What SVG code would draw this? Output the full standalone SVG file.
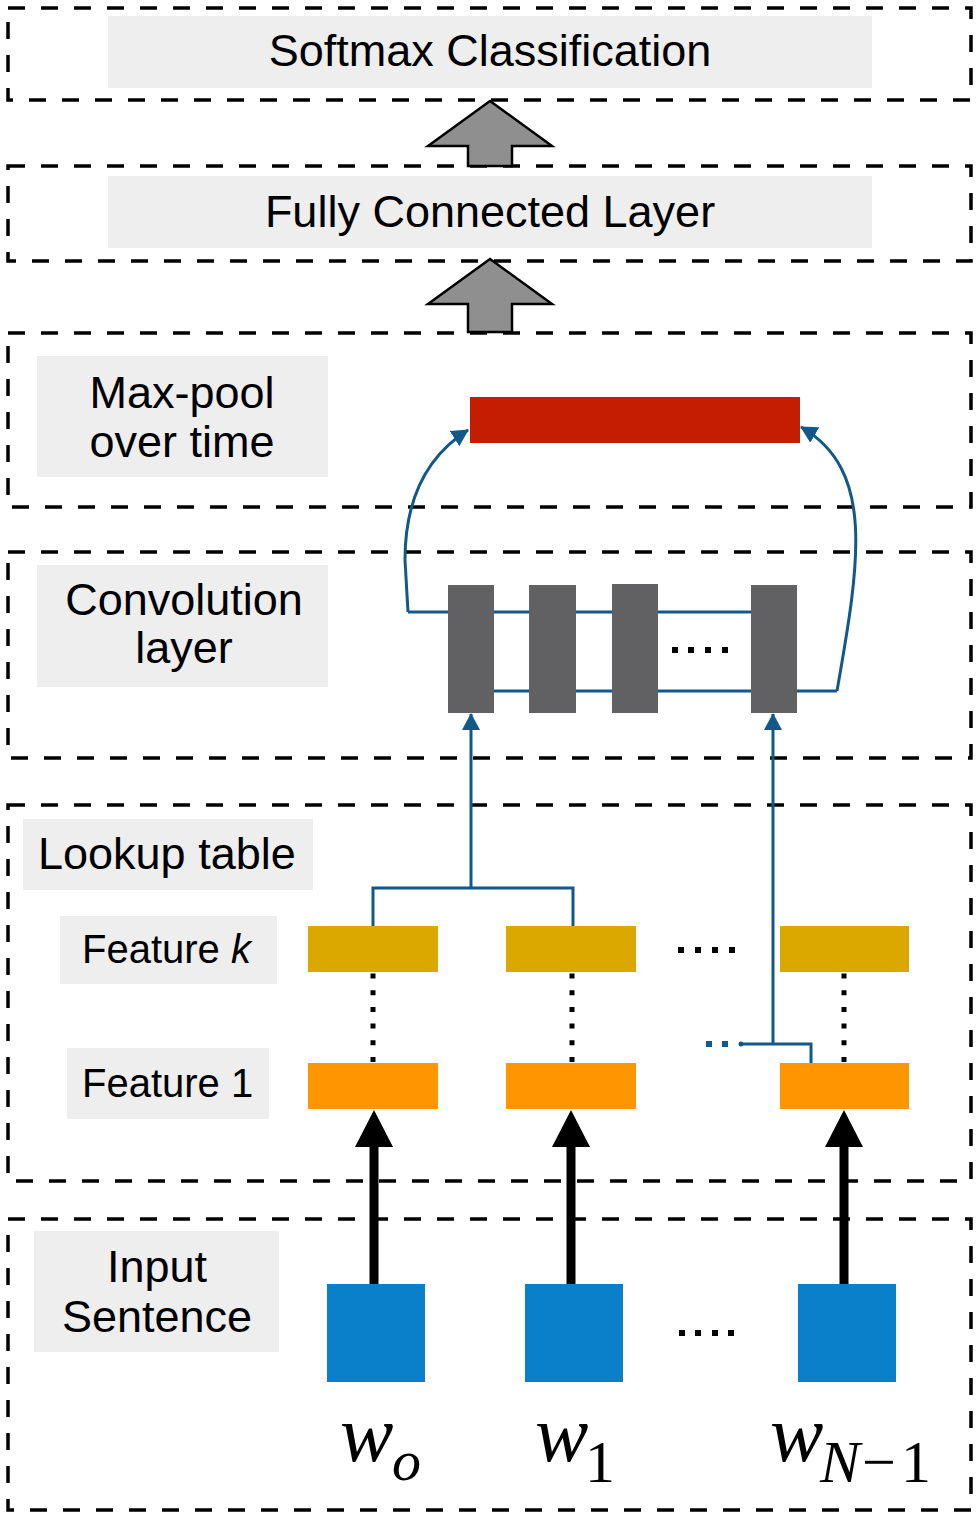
<svg xmlns="http://www.w3.org/2000/svg" width="978" height="1515" viewBox="0 0 978 1515">
<style>
.frame{fill:none;stroke:#000;stroke-width:3.5;stroke-dasharray:17 16}
.lbl{fill:#EEEEEE}
.t{font-family:"Liberation Sans",Arial,Helvetica,sans-serif;font-size:45px;fill:#000}
.tf{font-family:"Liberation Sans",Arial,Helvetica,sans-serif;font-size:40px;fill:#000}
.w{font-family:"Liberation Serif","Times New Roman",serif;fill:#000}
.gold{fill:#DBA800}
.orange{fill:#FF9500}
.blue{fill:#0A80CA}
.bar{fill:#616062}
.dot{fill:#000}
.conn{fill:none;stroke:#11598A;stroke-width:3}
.vdot{fill:none;stroke:#000;stroke-width:5;stroke-dasharray:5 11.7}
.thick{fill:none;stroke:#000;stroke-width:9}
.grey-arrow{fill:#8F8F8F;stroke:#000;stroke-width:2.5;stroke-linejoin:miter}
</style>
<defs>
<marker id="bh" markerUnits="userSpaceOnUse" markerWidth="17" markerHeight="18" viewBox="0 0 17 18" refX="16" refY="9" orient="auto">
<path d="M0,0 L17,9 L0,18 z" fill="#11598A"/>
</marker>
<marker id="kh" markerUnits="userSpaceOnUse" markerWidth="37" markerHeight="38" viewBox="0 0 37 38" refX="0" refY="19" orient="auto">
<path d="M0,0 L37,19 L0,38 z" fill="#000"/>
</marker>
</defs>
<rect width="978" height="1515" fill="#fff"/>

<g id="frames">
<rect class="frame" x="8" y="8" width="963" height="92"/>
<rect class="frame" x="8" y="166" width="963" height="95"/>
<rect class="frame" x="8" y="333" width="963" height="174"/>
<rect class="frame" x="8" y="552" width="963" height="206"/>
<rect class="frame" x="8" y="805" width="963" height="376"/>
<rect class="frame" x="8" y="1219" width="963" height="291"/>
</g>

<g id="softmax">
<rect class="lbl" x="108" y="16" width="764" height="72"/>
<text class="t" x="490" y="66" text-anchor="middle">Softmax Classification</text>
</g>

<g id="fully-connected">
<rect class="lbl" x="108" y="176" width="764" height="72"/>
<text class="t" x="490" y="227" text-anchor="middle">Fully Connected Layer</text>
</g>

<g id="maxpool-label">
<rect class="lbl" x="37" y="356" width="291" height="121"/>
<text class="t" x="182" y="408" text-anchor="middle">Max-pool</text>
<text class="t" x="182" y="457" text-anchor="middle">over time</text>
</g>

<g id="maxpool-vector">
<rect x="470" y="397" width="330" height="46" fill="#C41D02"/>
</g>

<g id="conv-label">
<rect class="lbl" x="37" y="565" width="291" height="122"/>
<text class="t" x="184" y="615" text-anchor="middle">Convolution</text>
<text class="t" x="184" y="663" text-anchor="middle">layer</text>
</g>

<g id="connectors">
<polygon class="grey-arrow" points="490,101 552,146 512,146 512,166 468,166 468,146 428,146"/>
<polygon class="grey-arrow" points="490,259 552,304 512,304 512,332 468,332 468,304 428,304"/>
<path class="conn" d="M408,612 L751,612"/>
<path class="conn" d="M494,691 L837,691"/>
<path class="conn" marker-end="url(#bh)" d="M408,612 L405,560 Q405,470 468,430"/>
<path class="conn" marker-end="url(#bh)" d="M837,691 C860,560 875,470 801,427"/>
<path class="conn" d="M373,926 L373,888 L573,888 L573,926"/>
<path class="conn" marker-end="url(#bh)" d="M471,888 L471,714"/>
<path class="conn" d="M741,1044 L811,1044 L811,1063"/>
<path class="conn" marker-end="url(#bh)" d="M773,1044 L773,714"/>
<rect x="706" y="1041" width="6" height="6" fill="#11598A"/>
<rect x="722" y="1041" width="6" height="6" fill="#11598A"/>
<circle cx="741" cy="1044" r="2.5" fill="#11598A"/>
<path class="vdot" d="M373,1062 L373,972"/>
<path class="vdot" d="M572,1062 L572,972"/>
<path class="vdot" d="M844,1062 L844,972"/>
<path class="thick" marker-end="url(#kh)" d="M374,1285 L374,1147"/>
<path class="thick" marker-end="url(#kh)" d="M571,1285 L571,1147"/>
<path class="thick" marker-end="url(#kh)" d="M844,1285 L844,1147"/>
</g>

<g id="conv-bars">
<rect class="bar" x="448" y="585" width="46" height="128"/>
<rect class="bar" x="529" y="585" width="47" height="128"/>
<rect class="bar" x="612" y="584" width="46" height="129"/>
<rect class="bar" x="751" y="585" width="46" height="128"/>
<rect class="dot" x="672" y="647" width="6" height="6"/>
<rect class="dot" x="688" y="647" width="6" height="6"/>
<rect class="dot" x="705" y="647" width="6" height="6"/>
<rect class="dot" x="722" y="647" width="6" height="6"/>
</g>

<g id="lookup-label">
<rect class="lbl" x="23" y="819" width="290" height="71"/>
<text class="t" x="38" y="869">Lookup table</text>
</g>

<g id="featurek-label">
<rect class="lbl" x="60" y="916" width="217" height="68"/>
<text class="tf" x="82" y="963">Feature <tspan font-style="italic">k</tspan></text>
</g>

<g id="feature1-label">
<rect class="lbl" x="67" y="1048" width="202" height="71"/>
<text class="tf" x="82" y="1097">Feature 1</text>
</g>

<g id="feature-k-boxes">
<rect class="gold" x="308" y="926" width="130" height="46"/>
<rect class="gold" x="506" y="926" width="130" height="46"/>
<rect class="gold" x="780" y="926" width="129" height="46"/>
<rect class="dot" x="678" y="947" width="6" height="6"/>
<rect class="dot" x="695" y="947" width="6" height="6"/>
<rect class="dot" x="712" y="947" width="6" height="6"/>
<rect class="dot" x="729" y="947" width="6" height="6"/>
</g>

<g id="feature-1-boxes">
<rect class="orange" x="308" y="1063" width="130" height="46"/>
<rect class="orange" x="506" y="1063" width="130" height="46"/>
<rect class="orange" x="780" y="1063" width="129" height="46"/>
</g>

<g id="input-label">
<rect class="lbl" x="34" y="1231" width="245" height="121"/>
<text class="t" x="157" y="1282" text-anchor="middle">Input</text>
<text class="t" x="157" y="1332" text-anchor="middle">Sentence</text>
</g>

<g id="input-words">
<rect class="blue" x="327" y="1284" width="98" height="98"/>
<rect class="blue" x="525" y="1284" width="98" height="98"/>
<rect class="blue" x="798" y="1284" width="98" height="98"/>
<rect class="dot" x="679" y="1330" width="6" height="6"/>
<rect class="dot" x="695" y="1330" width="6" height="6"/>
<rect class="dot" x="712" y="1330" width="6" height="6"/>
<rect class="dot" x="728" y="1330" width="6" height="6"/>
</g>

<g id="word-labels">
<text class="w" x="340" y="1461" font-size="80" font-style="italic">w<tspan x="392" y="1480" font-size="58">o</tspan></text>
<text class="w" x="535" y="1461" font-size="80" font-style="italic">w<tspan x="585" y="1482" font-size="60" font-style="normal">1</tspan></text>
<text class="w" x="770" y="1461" font-size="80" font-style="italic">w<tspan x="820" y="1482" font-size="60">N</tspan><tspan x="862" y="1482" font-size="60" font-style="normal">−</tspan><tspan x="901" y="1482" font-size="60" font-style="normal">1</tspan></text>
</g>
</svg>
